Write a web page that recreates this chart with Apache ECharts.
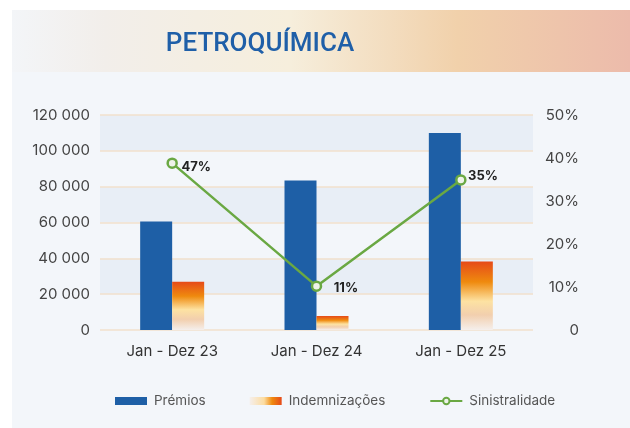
<!DOCTYPE html>
<html>
<head>
<meta charset="utf-8">
<script src="https://cdn.jsdelivr.net/npm/echarts@6/dist/echarts.min.js"></script>
<style>
html,body{margin:0;padding:0;background:#ffffff;}
#c{width:630px;height:428px;}
</style>
</head>
<body>
<div id="c"></div>
<script>
// ---- data ----
const titleText = 'PETROQUÍMICA';
const categories = ['Jan - Dez 23', 'Jan - Dez 24', 'Jan - Dez 25'];
const premios = [60500, 83500, 110000];
const indemnizacoes = [27000, 7800, 38300];
const sinistralidade = [38.8, 10.2, 34.9];
const sinistralidadeLabels = ['47%', '11%', '35%'];
const leftTicks = [0, 20000, 40000, 60000, 80000, 100000, 120000];
const rightTicks = [0, 10, 20, 30, 40, 50];

// ---- styles ----
const FONT = 'Inter';
const labelOffsets = [[-2.5, 3.5], [5.5, 2], [-4.5, -4]];

const chart = echarts.init(document.getElementById('c'), null, {renderer: 'canvas'});

const indemGradient = new echarts.graphic.LinearGradient(0, 0, 0, 1, [
  {offset: 0, color: '#e64a19'},
  {offset: 0.3, color: '#ef8a0e'},
  {offset: 0.58, color: '#fde2a2'},
  {offset: 0.78, color: '#f2cfae'},
  {offset: 1, color: '#f5efec'}
]);
const indemLegendGradient = new echarts.graphic.LinearGradient(0, 0, 1, 0, [
  {offset: 0, color: '#f5efec'},
  {offset: 0.45, color: '#fcdca0'},
  {offset: 0.7, color: '#ef8a0e'},
  {offset: 1, color: '#e64a19'}
]);

const fmt = v => v === 0 ? '0' : String(v).replace(/\B(?=(\d{3})+(?!\d))/g, ' ');

chart.setOption({
  animation: false,
  backgroundColor: '#ffffff',
  textStyle: {fontFamily: FONT},
  graphic: [
    {type: 'rect', z: -10, shape: {x: 12, y: 10, width: 618, height: 418}, style: {fill: '#f3f6fa'}},
    {type: 'rect', z: -9, shape: {x: 12, y: 10, width: 618, height: 62},
      style: {fill: new echarts.graphic.LinearGradient(0, 0, 1, 0, [
        {offset: 0, color: '#f3f5f8'},
        {offset: 0.15, color: '#f2eeea'},
        {offset: 0.45, color: '#f6eedc'},
        {offset: 0.72, color: '#f1d1ab'},
        {offset: 1, color: '#ecbbab'}
      ])}},
    {type: 'text', z: 10, x: 260, y: 44,
      style: {text: titleText, fill: '#1f5fa8', font: '500 26px Roboto', textAlign: 'center', textVerticalAlign: 'middle'}}
  ],
  grid: {left: 100, right: 97, top: 115, bottom: 98, containLabel: false},
  legend: {
    left: 110, top: 389,
    itemWidth: 32, itemHeight: 8, itemGap: 44,
    textStyle: {fontFamily: FONT, fontSize: 13.5, color: '#555555', padding: [0, 0, 0, 2]},
    data: [
      {name: 'Prémios', icon: 'rect'},
      {name: 'Indemnizações', icon: 'rect', itemStyle: {color: indemLegendGradient}},
      {name: 'Sinistralidade'}
    ]
  },
  xAxis: {
    type: 'category', data: categories,
    axisLine: {show: false}, axisTick: {show: false},
    axisLabel: {fontFamily: FONT, fontSize: 15, color: '#333333', margin: 14}
  },
  yAxis: [
    {
      type: 'value', min: leftTicks[0], max: leftTicks[leftTicks.length - 1], interval: leftTicks[1] - leftTicks[0],
      axisLine: {show: false}, axisTick: {show: false},
      axisLabel: {fontFamily: FONT, fontSize: 15, color: '#444444', margin: 10, formatter: fmt},
      splitLine: {show: true, lineStyle: {color: '#f2e0cc', width: 1.5}},
      splitArea: {show: true, areaStyle: {color: ['#f3f6fa', '#e8eef6']}}
    },
    {
      type: 'value', min: rightTicks[0], max: rightTicks[rightTicks.length - 1], interval: rightTicks[1] - rightTicks[0],
      position: 'right',
      axisLine: {show: false}, axisTick: {show: false}, splitLine: {show: false},
      axisLabel: {fontFamily: FONT, fontSize: 15, color: '#444444', margin: 46, align: 'right',
        formatter: v => v === 0 ? '0' : v + '%'}
    }
  ],
  series: [
    {name: 'Prémios', type: 'bar', data: premios, barWidth: 32, barGap: '0%',
      itemStyle: {color: '#1e5fa6'}},
    {name: 'Indemnizações', type: 'bar', data: indemnizacoes, barWidth: 32, barGap: '0%',
      itemStyle: {color: indemGradient}},
    {name: 'Sinistralidade', type: 'line', yAxisIndex: 1,
      data: sinistralidade.map((v, i) => ({value: v, label: {offset: labelOffsets[i]}})),
      symbol: 'circle', symbolSize: 9,
      lineStyle: {color: '#6aa843', width: 2.5},
      itemStyle: {color: '#eef3ea', borderColor: '#6aa843', borderWidth: 2.5},
      label: {show: true, position: 'right', distance: 6, fontFamily: FONT, fontSize: 13, fontWeight: 'bold', color: '#222222',
        formatter: p => sinistralidadeLabels[p.dataIndex]},
      z: 5}
  ]
});
</script>
</body>
</html>
